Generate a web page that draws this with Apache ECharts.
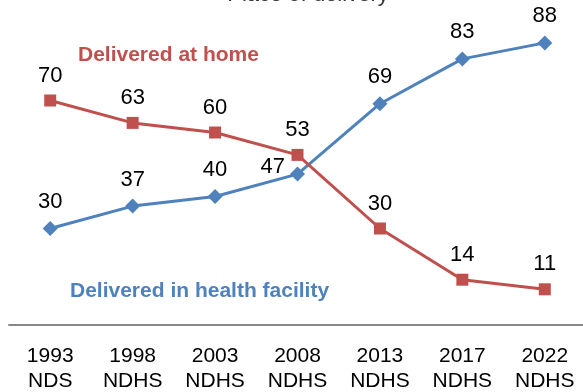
<!DOCTYPE html>
<html>
<head>
<meta charset="utf-8">
<script src="https://cdn.jsdelivr.net/npm/echarts@6/dist/echarts.min.js"></script>
<style>
  html, body { margin: 0; padding: 0; background: #fff; }
  #chart { width: 583px; height: 392px; }
</style>
</head>
<body>
<div id="chart"></div>
<script>
// Survey rounds (two-line axis labels)
const surveys = ['1993\nNDS', '1998\nNDHS', '2003\nNDHS', '2008\nNDHS', '2013\nNDHS', '2017\nNDHS', '2022\nNDHS'];
// Percent of births by place of delivery
const deliveredAtHome = [70, 63, 60, 53, 30, 14, 11];
const deliveredInFacility = [30, 37, 40, 47, 69, 83, 88];

const RED = '#C0504D';
const BLUE = '#4F81BD';
const FONT = 'Liberation Sans, Arial, sans-serif';

const chart = echarts.init(document.getElementById('chart'), null, { renderer: 'canvas' });

const valueLabel = {
  show: true,
  position: 'top',
  distance: 8,
  color: '#000',
  fontFamily: FONT,
  fontSize: 22
};

chart.setOption({
  animation: false,
  backgroundColor: '#fff',
  grid: {
    left: 9, width: 577, top: 4.5, bottom: 67.5,
    containLabel: false, outerBoundsMode: 'none'
  },
  graphic: [
    {
      type: 'text', x: 308, y: -16,
      style: { text: 'Place of delivery', fill: '#333', font: '22px ' + FONT, textAlign: 'center' }
    },
    {
      type: 'text', x: 78, y: 45,
      style: { text: 'Delivered at home', fill: RED, font: 'bold 21px ' + FONT }
    },
    {
      type: 'text', x: 70, y: 281,
      style: { text: 'Delivered in health facility', fill: BLUE, font: 'bold 21px ' + FONT }
    }
  ],
  xAxis: {
    type: 'category',
    data: surveys,
    boundaryGap: true,
    axisLine: { lineStyle: { color: '#888', width: 2 } },
    axisTick: { show: false },
    axisLabel: {
      color: '#000', fontFamily: FONT, fontSize: 21, lineHeight: 25, margin: 19,
      interval: 0
    }
  },
  yAxis: {
    type: 'value', min: 0, max: 100,
    show: false,
    splitLine: { show: false }
  },
  series: [
    {
      name: 'Delivered at home',
      type: 'line',
      data: deliveredAtHome,
      symbol: 'rect',
      symbolSize: 12,
      lineStyle: { color: RED, width: 3 },
      itemStyle: { color: RED },
      label: valueLabel,
      z: 3
    },
    {
      name: 'Delivered in health facility',
      type: 'line',
      data: deliveredInFacility.map((v, i) => i === 3
        ? { value: v, label: { position: 'left', distance: 5, offset: [0, -7] } }
        : v),
      symbol: 'diamond',
      symbolSize: 15,
      lineStyle: { color: BLUE, width: 3 },
      itemStyle: { color: BLUE },
      label: valueLabel,
      z: 2
    }
  ]
});
</script>
</body>
</html>
